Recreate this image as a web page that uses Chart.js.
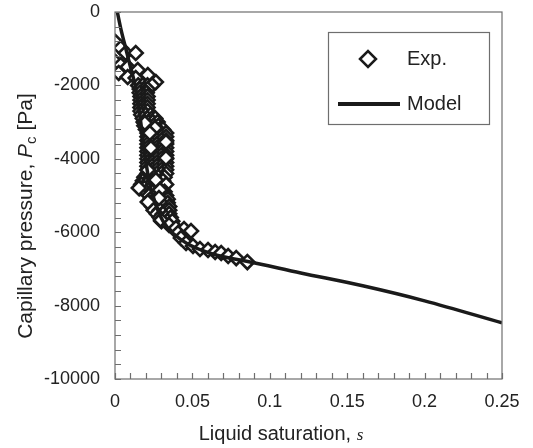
<!DOCTYPE html>
<html>
<head>
<meta charset="utf-8">
<script src="https://cdn.jsdelivr.net/npm/chart.js@4.4.1/dist/chart.umd.min.js"></script>
<style>
  html, body { margin: 0; padding: 0; background: #fff; }
  #pc-chart { display: block; }
</style>
</head>
<body>
<canvas id="pc-chart" width="533" height="448"></canvas>
<script>
// Experimental points: liquid saturation s [-] and capillary pressure Pc [Pa]
const expS = [
  // upper cluster
  0.0003, 0.0037, 0.0069, 0.0134, 0.0003, 0.0037, 0.0082, 0.0147, 0.0024, 0.0082, 0.0134, 0.0212, 0.0264,
  // dense band
  0.015, 0.018, 0.021, 0.024,
  0.016, 0.019, 0.021,
  0.016, 0.019, 0.0205,
  0.0165, 0.019, 0.021,
  0.0165, 0.019, 0.021,
  0.0165, 0.019, 0.021,
  0.0165, 0.019, 0.021,
  0.0165, 0.019, 0.021,
  0.017, 0.020, 0.023,
  0.018, 0.021, 0.024, 0.026,
  0.0185, 0.0215, 0.0245, 0.0275,
  0.019, 0.022, 0.025, 0.028,
  0.020, 0.023, 0.026, 0.029, 0.031,
  0.021, 0.024, 0.027, 0.030, 0.033,
  0.021, 0.024, 0.027, 0.030, 0.033,
  0.021, 0.024, 0.027, 0.030, 0.033,
  0.021, 0.024, 0.027, 0.030, 0.033,
  0.021, 0.024, 0.027, 0.030, 0.033,
  0.021, 0.024, 0.027, 0.030, 0.033,
  0.021, 0.024, 0.027, 0.030, 0.033,
  0.021, 0.024, 0.027, 0.030, 0.033,
  0.021, 0.024, 0.027, 0.030, 0.033,
  0.021, 0.024, 0.027, 0.030, 0.033,
  0.021, 0.024, 0.027, 0.030, 0.033,
  0.021, 0.024, 0.027, 0.030, 0.033,
  0.019, 0.022, 0.025, 0.028, 0.032,
  0.018, 0.021, 0.024, 0.027, 0.031,
  0.017, 0.020, 0.023, 0.027, 0.033,
  0.016, 0.019, 0.023, 0.028,
  0.020, 0.024, 0.028, 0.032,
  0.022, 0.026, 0.030, 0.033,
  0.023, 0.027, 0.031, 0.034,
  0.023, 0.027, 0.031, 0.034,
  0.024, 0.028, 0.032, 0.035,
  0.025, 0.029, 0.033, 0.035,
  0.027, 0.031, 0.035,
  0.029, 0.033, 0.036,
  0.030, 0.034, 0.037,
  // visible diamonds on the band edges
  0.0193, 0.0258, 0.0225, 0.0329, 0.0232, 0.0329, 0.0212, 0.0264, 0.0154, 0.0290, 0.0212, 0.0284,
  // knee and tail
  0.0297, 0.0349, 0.0394, 0.0446, 0.0407, 0.0491, 0.0426, 0.0459, 0.0504,
  0.0549, 0.0601, 0.0647, 0.0686, 0.0731, 0.0783, 0.0855
];
const expP = [
  -818, -981, -1117, -1117, -1363, -1444, -1499, -1581, -1662, -1771, -1799, -1717, -1908,
  -2000, -2000, -2000, -2000,
  -2100, -2100, -2100,
  -2200, -2200, -2200,
  -2300, -2300, -2300,
  -2400, -2400, -2400,
  -2500, -2500, -2500,
  -2600, -2600, -2600,
  -2700, -2700, -2700,
  -2800, -2800, -2800,
  -2900, -2900, -2900, -2900,
  -3000, -3000, -3000, -3000,
  -3100, -3100, -3100, -3100,
  -3200, -3200, -3200, -3200, -3200,
  -3300, -3300, -3300, -3300, -3300,
  -3400, -3400, -3400, -3400, -3400,
  -3500, -3500, -3500, -3500, -3500,
  -3600, -3600, -3600, -3600, -3600,
  -3700, -3700, -3700, -3700, -3700,
  -3800, -3800, -3800, -3800, -3800,
  -3900, -3900, -3900, -3900, -3900,
  -4000, -4000, -4000, -4000, -4000,
  -4100, -4100, -4100, -4100, -4100,
  -4200, -4200, -4200, -4200, -4200,
  -4300, -4300, -4300, -4300, -4300,
  -4400, -4400, -4400, -4400, -4400,
  -4500, -4500, -4500, -4500, -4500,
  -4600, -4600, -4600, -4600, -4600,
  -4700, -4700, -4700, -4700, -4700,
  -4800, -4800, -4800, -4800,
  -4900, -4900, -4900, -4900,
  -5000, -5000, -5000, -5000,
  -5100, -5100, -5100, -5100,
  -5200, -5200, -5200, -5200,
  -5300, -5300, -5300, -5300,
  -5400, -5400, -5400, -5400,
  -5500, -5500, -5500,
  -5600, -5600, -5600,
  -5700, -5700, -5700,
  -3025, -3161, -3297, -3543, -3706, -3979, -4306, -4578, -4796, -4851, -5178, -5069,
  -5668, -5804, -5886, -5913, -6022, -5968, -6159, -6295, -6377,
  -6458, -6486, -6540, -6567, -6649, -6704, -6813
];

// Model curve
const modelS = [0.0015, 0.004, 0.007, 0.010, 0.013, 0.016, 0.019, 0.022, 0.026, 0.031, 0.038, 0.047,
  0.058, 0.070, 0.085, 0.12, 0.16, 0.20, 0.25];
const modelP = [0, -500, -1000, -1500, -2000, -2800, -3800, -4600, -5200, -5700, -6050, -6320,
  -6520, -6670, -6790, -7110, -7460, -7870, -8470];

// Axis ticks
const xTicks = [0, 0.05, 0.1, 0.15, 0.2, 0.25];
const yTicks = [0, -2000, -4000, -6000, -8000, -10000];
const xMinorStep = 0.01;
const yMinorStep = 400;

const legendLabels = ['Exp.', 'Model'];

const ink = '#1a1a1a';
const axisGray = '#6e6e6e';
const sans = '"Liberation Sans", Arial, sans-serif';

// frame, inward ticks, axis titles and the legend box
const decorations = {
  id: 'decorations',
  afterDraw(chart) {
    const { ctx, chartArea: a, scales: { x, y } } = chart;
    ctx.save();
    ctx.strokeStyle = axisGray;
    ctx.lineWidth = 1.2;
    ctx.strokeRect(a.left, a.top, a.right - a.left, a.bottom - a.top);

    ctx.beginPath();
    for (let v = x.min; v <= x.max + 1e-9; v += xMinorStep) {
      const px = Math.round(x.getPixelForValue(v)) + 0.5;
      ctx.moveTo(px, a.bottom);
      ctx.lineTo(px, a.bottom - 6);
    }
    for (let v = y.max; v >= y.min - 1e-9; v -= yMinorStep) {
      const py = Math.round(y.getPixelForValue(v)) + 0.5;
      ctx.moveTo(a.left, py);
      ctx.lineTo(a.left + 6, py);
    }
    ctx.stroke();

    // x title
    ctx.fillStyle = '#222';
    ctx.textBaseline = 'alphabetic';
    ctx.textAlign = 'left';
    const xt1 = 'Liquid saturation, ';
    ctx.font = '20px ' + sans;
    const w1 = ctx.measureText(xt1).width;
    ctx.font = 'italic 17px "Liberation Serif", serif';
    const w2 = ctx.measureText('s').width;
    let sx = 281 - (w1 + w2) / 2;
    ctx.font = '20px ' + sans;
    ctx.fillText(xt1, sx, 440);
    ctx.font = 'italic 17px "Liberation Serif", serif';
    ctx.fillText('s', sx + w1, 440);

    // y title, rotated, with italic P and subscript c
    const parts = [
      { t: 'Capillary pressure, ', f: '21px ' + sans, dy: 0 },
      { t: 'P', f: 'italic 21px ' + sans, dy: 0 },
      { t: 'c', f: '15px ' + sans, dy: 4 },
      { t: ' [Pa]', f: '21px ' + sans, dy: 0 }
    ];
    let total = 0;
    parts.forEach(p => { ctx.font = p.f; p.w = ctx.measureText(p.t).width; total += p.w; });
    ctx.translate(31.5, 216);
    ctx.rotate(-Math.PI / 2);
    let cx = -total / 2;
    parts.forEach(p => { ctx.font = p.f; ctx.fillText(p.t, cx, p.dy); cx += p.w; });
    ctx.setTransform(1, 0, 0, 1, 0, 0);

    // legend
    ctx.strokeStyle = axisGray;
    ctx.lineWidth = 1.2;
    ctx.strokeRect(328.5, 32.5, 161, 92);
    ctx.strokeStyle = ink;
    ctx.fillStyle = '#fff';
    ctx.lineWidth = 2.5;
    ctx.beginPath();
    ctx.moveTo(360, 59);
    ctx.lineTo(368, 51);
    ctx.lineTo(376, 59);
    ctx.lineTo(368, 67);
    ctx.closePath();
    ctx.fill();
    ctx.stroke();
    ctx.lineWidth = 4;
    ctx.beginPath();
    ctx.moveTo(338, 104);
    ctx.lineTo(400, 104);
    ctx.stroke();
    ctx.fillStyle = '#222';
    ctx.font = '20px ' + sans;
    ctx.textBaseline = 'middle';
    ctx.fillText(legendLabels[0], 407, 59);
    ctx.fillText(legendLabels[1], 407, 104);
    ctx.restore();
  }
};

const pcChart = new Chart(document.getElementById('pc-chart'), {
  type: 'scatter',
  data: {
    datasets: [{
      label: legendLabels[0],
      data: expS.map((s, i) => ({ x: s, y: expP[i] })),
      pointStyle: 'rectRot',
      pointRadius: 7,
      pointHoverRadius: 7,
      pointBackgroundColor: '#fff',
      pointBorderColor: ink,
      pointBorderWidth: 2.6,
      order: 2
    }, {
      label: legendLabels[1],
      data: modelS.map((s, i) => ({ x: s, y: modelP[i] })),
      showLine: true,
      borderColor: ink,
      borderWidth: 3.5,
      pointRadius: 0,
      cubicInterpolationMode: 'monotone',
      order: 1
    }]
  },
  options: {
    responsive: false,
    animation: false,
    layout: { padding: { top: 12, right: 31, left: 0, bottom: 0 } },
    plugins: {
      legend: { display: false },
      tooltip: { enabled: false }
    },
    scales: {
      x: {
        type: 'linear',
        min: 0,
        max: 0.25,
        grid: { display: false, drawTicks: false, tickLength: 0 },
        border: { display: false },
        afterBuildTicks: scale => { scale.ticks = xTicks.map(v => ({ value: v })); },
        afterFit: scale => { scale.height = 69; scale.paddingLeft = 0; scale.paddingRight = 0; },
        ticks: {
          padding: 12,
          color: '#222',
          font: { family: sans, size: 18 },
          maxRotation: 0,
          callback: v => String(+v.toFixed(2))
        }
      },
      y: {
        type: 'linear',
        min: -10000,
        max: 0,
        grid: { display: false, drawTicks: false, tickLength: 0 },
        border: { display: false },
        afterBuildTicks: scale => { scale.ticks = yTicks.map(v => ({ value: v })); },
        afterFit: scale => { scale.width = 115; scale.paddingTop = 0; scale.paddingBottom = 0; },
        ticks: {
          padding: 15,
          color: '#222',
          font: { family: sans, size: 18 },
          callback: v => String(v)
        }
      }
    }
  },
  plugins: [decorations]
});
</script>
</body>
</html>
